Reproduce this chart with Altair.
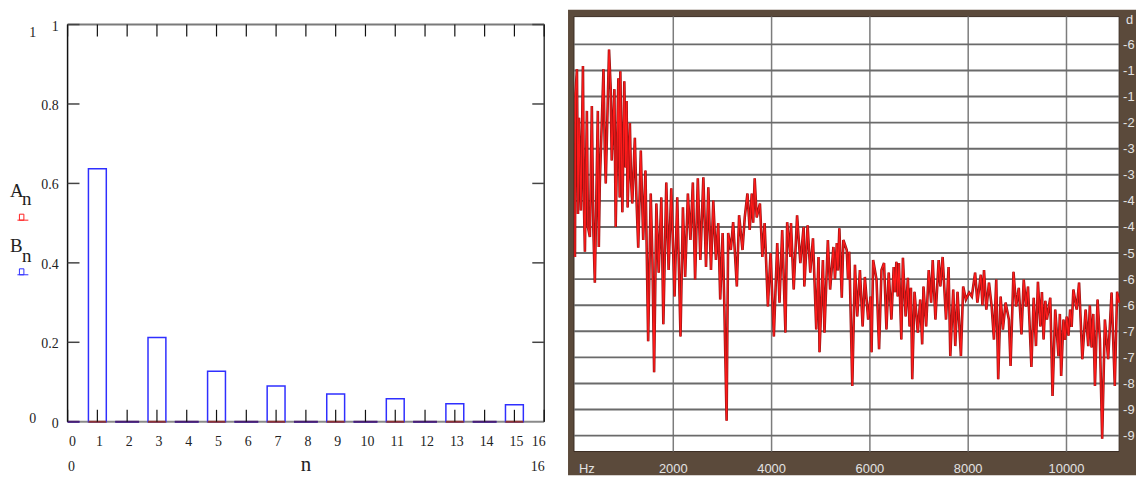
import altair as alt
import pandas as pd

# ---------------- Left panel: Fourier coefficients ----------------
n_index = list(range(16))
b_n = [0.0, 0.637, 0.0, 0.212, 0.0, 0.127, 0.0, 0.09, 0.0, 0.07, 0.0, 0.058, 0.0, 0.045, 0.0, 0.043]
a_n = [0.0] * 16
n_ticks = list(range(17))
y_ticks = [0, 0.2, 0.4, 0.6, 0.8, 1]
y_tick_labels = ["0", "0.2", "0.4", "0.6", "0.8", "1"]
y_inner_ticks = [0.2, 0.4, 0.6, 0.8, 1]
y_limits = [0, 1]
x_limits = [0, 16]

# ---------------- Right panel: spectrum (Hz, dB) ----------------
freq_hz = [
    0, 10, 40, 61, 81, 121, 162, 182, 202, 242, 263, 303, 343, 374, 404, 444, 465, 485, 505, 580,
    606, 626, 667, 693, 727, 747, 802, 828, 883, 909, 923, 964, 1004, 1030, 1050, 1071, 1117, 1141, 1166, 1218,
    1252, 1287, 1339, 1388, 1434, 1489, 1541, 1576, 1610, 1656, 1703, 1757, 1798, 1858, 1905, 1959, 2026, 2081, 2147,
    2196, 2242, 2297, 2349, 2398, 2444, 2499, 2551, 2612, 2666, 2713, 2767, 2814, 2868, 2915, 2955, 3004, 3036, 3085, 3117,
    3171, 3218, 3293, 3339, 3408, 3454, 3509, 3555, 3596, 3626, 3656, 3697, 3763, 3812, 3858, 3925, 3979, 4046, 4115, 4161,
    4216, 4282, 4317, 4383,
    4395, 4450, 4519, 4585, 4652, 4666, 4733, 4787, 4842, 4909, 4955, 4975, 5044, 5076, 5145, 5191, 5258, 5290, 5327, 5350,
    5379, 5428, 5460, 5529, 5555, 5581, 5642, 5696, 5743, 5797, 5852, 5898, 5965, 6014, 6034, 6066, 6135, 6187, 6236, 6288,
    6337, 6383, 6438, 6484, 6510, 6539, 6565, 6591, 6640,
    6672, 6727, 6773, 6807, 6835, 6862, 6908, 6975, 7024, 7064, 7090, 7145, 7197, 7246, 7278, 7333, 7399, 7434, 7480, 7549,
    7601, 7636, 7696, 7737, 7783, 7852, 7898, 7953, 8019, 8074, 8141, 8187, 8256, 8290, 8322, 8369, 8423, 8478, 8524, 8571,
    8611, 8660, 8706, 8761, 8828, 8862,
    8922, 8975, 9029, 9084, 9130, 9177, 9217, 9286, 9332, 9379, 9419, 9468, 9500, 9534, 9570, 9601, 9670, 9716, 9771, 9837,
    9865, 9892, 9938, 9970, 10005, 10040, 10074, 10105, 10140, 10207, 10256, 10322, 10389, 10443, 10475, 10510, 10545, 10579, 10632, 10680,
    10726, 10781, 10848, 10917, 10983, 11030, 11070,
]
level_db = [
    -54.9, -17.4, -11.7, -45.0, -22.9, -44.2, -11.0, -42.6, -53.7, -21.3, -48.0, -50.3, -20.2, -48.7, -60.8, -35.0, -21.3, -52.6, -38.0, -11.7,
    -29.8, -38.0, -19.0, -7.2, -16.3, -32.7, -16.3, -48.0, -13.8, -41.2, -12.2, -44.6, -14.5, -34.3, -19.0, -43.5, -24.1, -37.3, -42.6, -27.5,
    -41.9, -52.8, -30.4, -51.0, -35.0, -74.3, -40.3, -55.6, -81.4, -42.6, -58.5, -41.2, -70.4, -37.8, -57.9, -39.1, -64.0, -41.2, -73.2,
    -43.5, -59.5, -40.3, -51.0, -37.8, -60.1, -36.8, -55.6, -36.6, -57.2, -38.9, -57.9, -41.9, -55.6, -47.1, -64.7, -49.4, -64.7, -92.6, -49.4,
    -53.3, -46.9, -61.7, -45.3, -53.3, -45.8, -40.3, -48.7, -40.3, -47.0, -36.8, -45.8, -42.6, -54.9, -47.1, -66.3, -54.0, -73.2, -51.7, -65.4,
    -48.7, -72.3, -46.9, -54.9,
    -47.1, -62.4, -45.3, -56.3, -48.0, -61.7, -47.6, -58.5, -50.6, -71.6, -54.9, -76.8, -55.6, -72.3, -51.0, -62.4, -52.6, -60.0, -51.7, -58.0,
    -48.3, -64.3, -51.0, -53.3, -60.0, -53.7, -84.6, -56.7, -68.6, -57.9, -70.9, -59.5, -69.3, -64.0, -76.8, -55.6, -60.1, -76.1, -57.9, -56.3,
    -71.6, -58.5, -69.3, -57.2, -63.0, -56.0, -64.0, -56.3, -73.9,
    -55.1, -68.6, -59.7, -70.9, -62.0, -83.0, -62.9, -72.3, -64.7, -75.0, -61.7, -70.9, -57.9, -65.4, -55.6, -69.3, -55.6, -61.7, -54.9, -69.3,
    -57.2, -77.7, -62.4, -75.4, -62.9, -77.7, -61.7, -64.7, -63.1, -64.0, -58.5, -65.4, -59.0, -66.0, -57.9, -67.0, -60.8, -66.3, -73.9, -60.1,
    -83.0, -64.0, -71.6, -65.4, -69.3, -80.0,
    -58.3, -66.3, -62.0, -72.7, -60.1, -66.3, -61.7, -80.2, -64.3, -75.4, -60.6, -70.9, -63.0, -73.9, -65.0, -69.3, -64.3, -86.9, -67.0, -77.7,
    -68.0, -82.3, -69.3, -74.0, -68.6, -73.0, -67.0, -71.0, -62.4, -67.0, -60.8, -78.4, -67.0, -75.4, -66.0, -75.7, -68.0, -84.6, -64.7, -73.9,
    -96.7, -69.3, -78.4, -63.1, -84.6, -62.9, -65.4,
]
hz_ticks = [0, 2000, 4000, 6000, 8000, 10000]
hz_tick_labels = ["Hz", "2000", "4000", "6000", "8000", "10000"]
hz_grid = [2000, 4000, 6000, 8000, 10000]
db_grid = [-6, -12, -18, -24, -30, -36, -42, -48, -54, -60, -66, -72, -78, -84, -90, -96]
# labels as visible in the (right-cropped) source image
db_grid_labels = ["-6", "-1", "-1", "-2", "-3", "-3", "-4", "-4", "-5", "-6",
                  "-6", "-7", "-7", "-8", "-9", "-9"]
db_unit = [0]
db_unit_label = ["d"]

# ---------------- canvas & scales ----------------
W, H = 1136, 469
SERIF = "Liberation Serif"
SANS = "Liberation Sans"
INK = "#222222"

LX = alt.Scale(domain=x_limits, range=[60, 540], nice=False, zero=False)
LY = alt.Scale(domain=y_limits, range=[415, 15], nice=False, zero=False)
RX = alt.Scale(domain=[0, 10000], range=[571, 1066], nice=False, zero=False)
RY = alt.Scale(domain=[-96, 0], range=[429, 8.7], nice=False, zero=False)

one = pd.DataFrame({"k": [0]})


def lx(f):
    return alt.X(f, type="quantitative", scale=LX, axis=None)


def ly(f):
    return alt.Y(f, type="quantitative", scale=LY, axis=None)


def rx(f):
    return alt.X(f, type="quantitative", scale=RX, axis=None)


def ry(f):
    return alt.Y(f, type="quantitative", scale=RY, axis=None)


# ---------------- left panel layers ----------------
coef = pd.DataFrame({"n": n_index, "Bn": b_n, "An": a_n})


def coef_base():
    return (alt.Chart(coef)
            .transform_calculate(half="datum.n % 2 == 0 ? 0.4 : 0.3")
            .transform_calculate(left="max(0, datum.n - datum.half)")
            .transform_calculate(right="datum.n + datum.half")
            .transform_calculate(zero="0"))


edges_df = pd.DataFrame({"x0": [x_limits[0]], "x1": [x_limits[1]], "y0": [y_limits[0]], "y1": [y_limits[1]]})
edge_bottom = alt.Chart(edges_df).mark_rule(color="#8a8a8a", strokeWidth=2).encode(
    x=lx("x0"), x2=alt.X2("x1"), y=ly("y0"))
edge_top = alt.Chart(edges_df).mark_rule(color="#7a7a7a", strokeWidth=2).encode(
    x=lx("x0"), x2=alt.X2("x1"), y=ly("y1"))
edge_left = alt.Chart(edges_df).mark_rule(color="#111111", strokeWidth=1.5).encode(
    x=lx("x0"), y=ly("y0"), y2=alt.Y2("y1"))
edge_right = alt.Chart(edges_df).mark_rule(color="#333333", strokeWidth=1.5).encode(
    x=lx("x1"), y=ly("y0"), y2=alt.Y2("y1"))

bn_layer = coef_base().mark_rect(fillOpacity=0, stroke="#2f2fff", strokeWidth=1.5).encode(
    x=lx("left"), x2=alt.X2("right"), y=ly("Bn"), y2=alt.Y2("zero"))
an_layer = coef_base().mark_rect(fillOpacity=0, strokeWidth=2).encode(
    x=lx("left"), x2=alt.X2("right"), y=ly("An"), y2=alt.Y2("zero"),
    stroke=alt.condition("datum.n % 2 == 0", alt.value("#4a1f72"), alt.value("#8c3434")))

tick_n = pd.DataFrame({"n": n_ticks})
tick_y = pd.DataFrame({"v": y_inner_ticks})
lo, hi = y_limits
bottom_ticks = alt.Chart(tick_n).transform_calculate(b=f"{lo}").mark_rule(color="#111111", strokeWidth=1.2).encode(
    x=lx("n"), y=ly("b"), y2=alt.value(403))
top_ticks = alt.Chart(tick_n).transform_calculate(b=f"{hi}").mark_rule(color="#111111", strokeWidth=1.2).encode(
    x=lx("n"), y=ly("b"), y2=alt.value(27))
left_ticks = alt.Chart(tick_y).transform_calculate(b=f"{x_limits[0]}").mark_rule(color="#444444", strokeWidth=1.5).encode(
    y=ly("v"), x=lx("b"), x2=alt.value(72))
right_ticks = alt.Chart(tick_y).transform_calculate(b=f"{x_limits[1]}").mark_rule(color="#444444", strokeWidth=1.5).encode(
    y=ly("v"), x=lx("b"), x2=alt.value(528))

num = dict(font=SERIF, fontSize=14, color=INK, baseline="alphabetic")
xlab = alt.Chart(tick_n).transform_calculate(t="format(datum.n, 'd')")
x_lab_first = xlab.transform_filter(f"datum.n == {x_limits[0]}").mark_text(align="left", dx=1.5, **num).encode(
    x=lx("n"), y=alt.value(439), text="t:N")
x_lab_mid = xlab.transform_filter(f"datum.n > {x_limits[0]} && datum.n < {x_limits[1]}").mark_text(
    align="center", dx=2, **num).encode(x=lx("n"), y=alt.value(439), text="t:N")
x_lab_last = xlab.transform_filter(f"datum.n == {x_limits[1]}").mark_text(align="right", dx=1.5, **num).encode(
    x=lx("n"), y=alt.value(439), text="t:N")

y_lab = alt.Chart(pd.DataFrame({"v": y_ticks, "t": y_tick_labels})).mark_text(align="right", dy=6, **num).encode(
    x=alt.value(51), y=ly("v"), text="t:N")

ylim = alt.Chart(pd.DataFrame({"v": y_limits})).transform_calculate(t="format(datum.v, 'd')")
ylim_top = ylim.transform_filter(f"datum.v == {hi}").mark_text(align="center", dy=13, **num).encode(
    x=alt.value(25), y=ly("v"), text="t:N")
ylim_bot = ylim.transform_filter(f"datum.v == {lo}").mark_text(align="center", dy=1, **num).encode(
    x=alt.value(25), y=ly("v"), text="t:N")

xlim = alt.Chart(pd.DataFrame({"v": x_limits})).transform_calculate(t="format(datum.v, 'd')")
xlim_left = xlim.transform_filter(f"datum.v == {x_limits[0]}").mark_text(align="left", dx=0.5, **num).encode(
    x=lx("v"), y=alt.value(465), text="t:N")
xlim_right = xlim.transform_filter(f"datum.v == {x_limits[1]}").mark_text(align="right", dx=0.5, **num).encode(
    x=lx("v"), y=alt.value(465), text="t:N")
x_title = alt.Chart(pd.DataFrame({"v": [(x_limits[0] + x_limits[1]) / 2]})).mark_text(
    text="n", font=SERIF, fontSize=21, color=INK, baseline="alphabetic", align="center").encode(
    x=lx("v"), y=alt.value(465))


def label(txt, x, y, size=19):
    return alt.Chart(one).mark_text(text=txt, font=SERIF, fontSize=size, color=INK,
                                    align="left", baseline="alphabetic").encode(
        x=alt.value(x), y=alt.value(y))


a_lbl = label("A", 2, 189)
a_sub = label("n", 14, 197)
b_lbl = label("B", 2, 244)
b_sub = label("n", 14, 254)


def marker(color, y):
    box = alt.Chart(one).mark_rect(fillOpacity=0, stroke=color, strokeWidth=1).encode(
        x=alt.value(11.5), x2=alt.value(16), y=alt.value(y), y2=alt.value(y + 6))
    base = alt.Chart(one).mark_rule(color=color, strokeWidth=1).encode(
        x=alt.value(9.5), x2=alt.value(20.5), y=alt.value(y + 6))
    return [box, base]


# ---------------- right panel layers ----------------
spec = pd.DataFrame({"hz": freq_hz, "db": level_db})

frame = alt.Chart(one).mark_rect(color="#5b4a3b").encode(
    x=alt.value(564), x2=alt.value(W), y=alt.value(0), y2=alt.value(H))
paper = alt.Chart(one).mark_rect(color="white", stroke="#3a2c22", strokeWidth=1).encode(
    x=alt.value(570), x2=alt.value(1119), y=alt.value(7), y2=alt.value(445))
vgrid = alt.Chart(pd.DataFrame({"hz": hz_grid})).mark_rule(color="#7c7c7c", strokeWidth=1.5).encode(
    x=rx("hz"), y=alt.value(7), y2=alt.value(445))
hgrid = alt.Chart(pd.DataFrame({"db": db_grid})).mark_rule(color="#6a6a6a", strokeWidth=2).encode(
    y=ry("db"), x=alt.value(570), x2=alt.value(1119))
line_dark = alt.Chart(spec).mark_line(color="#961414", strokeWidth=2.6).encode(x=rx("hz"), y=ry("db"))
line_red = alt.Chart(spec).mark_line(color="#ff1a1a", strokeWidth=1.2).encode(x=rx("hz"), y=ry("db"))

lab = dict(font=SANS, fontSize=13, color="#e2e2e2", baseline="alphabetic")
hz_df = pd.DataFrame({"hz": hz_ticks, "t": hz_tick_labels})
hz_first = alt.Chart(hz_df).transform_filter("datum.hz == 0").mark_text(align="left", dx=4, **lab).encode(
    x=rx("hz"), y=alt.value(467), text="t:N")
hz_rest = alt.Chart(hz_df).transform_filter("datum.hz > 0").mark_text(align="center", **lab).encode(
    x=rx("hz"), y=alt.value(467), text="t:N")
db_labels = alt.Chart(pd.DataFrame({"db": db_grid, "t": db_grid_labels})).mark_text(
    align="left", dy=4.5, **lab).encode(x=alt.value(1123), y=ry("db"), text="t:N")
db_unit_lbl = alt.Chart(pd.DataFrame({"db": db_unit, "t": db_unit_label})).mark_text(
    align="left", dy=5.5, **lab).encode(x=alt.value(1126), y=ry("db"), text="t:N")

layers = [
    edge_bottom, edge_top, edge_left, edge_right, bn_layer, an_layer,
    bottom_ticks, top_ticks, left_ticks, right_ticks,
    x_lab_first, x_lab_mid, x_lab_last, y_lab, ylim_top, ylim_bot, xlim_left, xlim_right, x_title,
    a_lbl, a_sub, b_lbl, b_sub, *marker("#ff2020", 206), *marker("#3030ff", 261),
    frame, paper, vgrid, hgrid, line_dark, line_red, hz_first, hz_rest, db_labels, db_unit_lbl,
]

chart = alt.layer(*layers).resolve_scale(x="independent", y="independent").properties(
    width=W, height=H, padding=0, autosize=alt.AutoSizeParams(type="none")
).configure_view(strokeWidth=0)

chart.save("out.html", embed_options={"renderer": "svg", "actions": False})
